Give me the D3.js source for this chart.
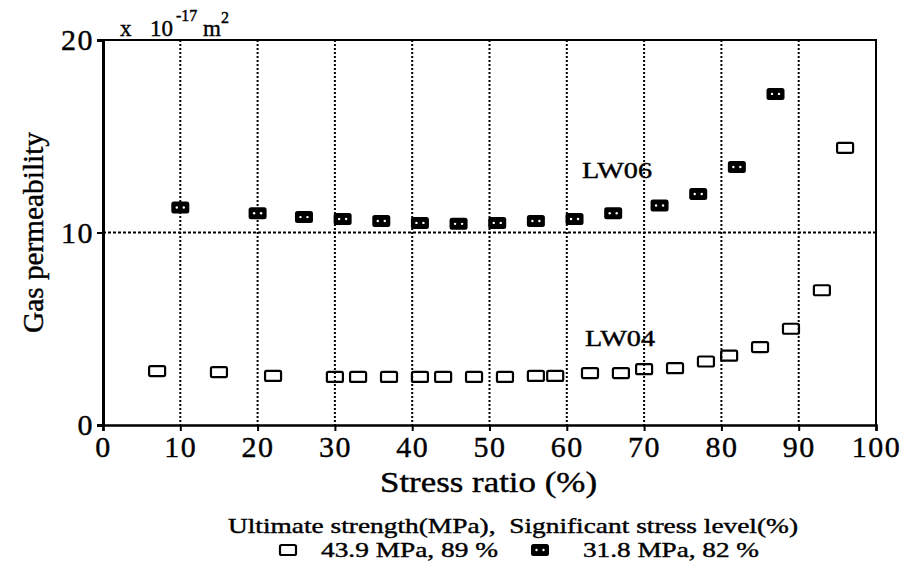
<!DOCTYPE html>
<html>
<head>
<meta charset="utf-8">
<script src="https://cdn.jsdelivr.net/npm/d3@7"></script>
<style>
  body { margin: 0; background: #fff; }
  svg text { font-family: "Times New Roman", "Liberation Serif", Times, serif !important; fill: #000; stroke: #000; stroke-width: 0.4px; }
</style>
</head>
<body>
<div id="chart"></div>
<script>
// LW04 (open squares) and LW06 (filled squares), gas permeability in 1e-17 m2
const lw04X = [7, 15, 22, 30, 33, 37, 41, 44, 48, 52, 56, 58.5, 63, 67, 70, 74, 78, 81, 85, 89, 93, 96];
const lw04Y = [2.8, 2.75, 2.55, 2.5, 2.5, 2.5, 2.5, 2.5, 2.5, 2.5, 2.55, 2.55, 2.7, 2.7, 2.9, 2.95, 3.3, 3.6, 4.05, 5.0, 7.0, 14.4];
const lw06X = [10, 20, 26, 31, 36, 41, 46, 51, 56, 61, 66, 72, 77, 82, 87];
const lw06Y = [11.3, 11.0, 10.8, 10.7, 10.6, 10.5, 10.45, 10.5, 10.6, 10.7, 11.0, 11.4, 12.0, 13.4, 17.2];
const xTicks = [0, 10, 20, 30, 40, 50, 60, 70, 80, 90, 100];
const yTicks = [0, 10, 20];
const legendLabels = ["43.9 MPa, 89 %", "31.8 MPa, 82 %"];

const W = 906, H = 567;
const plotL = 103, plotR = 876, plotT = 40, plotB = 425;
const serif = "'Times New Roman', 'Liberation Serif', Times, serif";

const svg = d3.select("#chart")
    .append("svg")
    .attr("width", W)
    .attr("height", H)
    .attr("font-family", serif);

const x = d3.scaleLinear().domain([0, 100]).range([plotL, plotR]);
const y = d3.scaleLinear().domain([0, 20]).range([plotB, plotT]);

// dotted grid
svg.append("g")
    .selectAll("line")
    .data(xTicks.slice(1, -1))
    .enter()
    .append("line")
    .attr("x1", d => x(d)).attr("x2", d => x(d))
    .attr("y1", plotT).attr("y2", plotB)
    .attr("stroke", "#000")
    .attr("stroke-width", 2)
    .attr("stroke-dasharray", "2,2");

svg.append("line")
    .attr("x1", plotL).attr("x2", plotR)
    .attr("y1", y(10)).attr("y2", y(10))
    .attr("stroke", "#000")
    .attr("stroke-width", 2)
    .attr("stroke-dasharray", "3,2");

// frame: top and right
svg.append("path")
    .attr("d", `M${plotL},${plotT}H${plotR}V${plotB}`)
    .attr("fill", "none")
    .attr("stroke", "#000")
    .attr("stroke-width", 2);

const xAxis = svg.append("g")
    .attr("transform", `translate(0,${plotB})`)
    .call(d3.axisBottom(x).tickValues(xTicks).tickSize(6).tickPadding(5));
xAxis.attr("font-family", serif);
xAxis.select(".domain").attr("stroke-width", 2.5);
xAxis.selectAll(".tick line").attr("stroke-width", 2);
xAxis.selectAll("text")
    .style("font-size", "30px")
    .attr("letter-spacing", "1.5px");

const yAxis = svg.append("g")
    .attr("transform", `translate(${plotL},0)`)
    .call(d3.axisLeft(y).tickValues(yTicks).tickSize(6).tickPadding(3));
yAxis.attr("font-family", serif);
yAxis.select(".domain").attr("stroke-width", 3);
yAxis.selectAll(".tick line").attr("stroke-width", 2);
yAxis.selectAll("text")
    .style("font-size", "30px")
    .attr("letter-spacing", "1.5px");

// axis titles
svg.append("text")
    .attr("x", 380).attr("y", 492)
    .attr("textLength", 217)
    .attr("lengthAdjust", "spacingAndGlyphs")
    .style("font-size", "29px")
    .text("Stress ratio (%)");

svg.append("text")
    .attr("transform", "translate(43,333) rotate(-90)")
    .attr("textLength", 201)
    .attr("lengthAdjust", "spacingAndGlyphs")
    .style("font-size", "29px")
    .text("Gas permeability");

// unit label
const unit = svg.append("text").attr("x", 120).attr("y", 36).style("font-size", "23px");
unit.append("tspan").text("x");
unit.append("tspan").attr("x", 150).text("10");
unit.append("tspan").attr("x", 176).attr("dy", -15).style("font-size", "16px").text("-17");
unit.append("tspan").attr("x", 203).attr("dy", 15).text("m");
unit.append("tspan").attr("dy", -13).style("font-size", "16px").text("2");

// series labels
svg.append("text")
    .attr("x", 582).attr("y", 178)
    .attr("textLength", 70)
    .attr("lengthAdjust", "spacingAndGlyphs")
    .style("font-size", "23px")
    .text("LW06");
svg.append("text")
    .attr("x", 585).attr("y", 346)
    .attr("textLength", 70)
    .attr("lengthAdjust", "spacingAndGlyphs")
    .style("font-size", "23px")
    .text("LW04");

// markers
function openMarker(g, cx, cy) {
    g.append("rect")
        .attr("x", cx - 8).attr("y", cy - 5)
        .attr("width", 16).attr("height", 10)
        .attr("rx", 1.5)
        .attr("fill", "none")
        .attr("stroke", "#000")
        .attr("stroke-width", 2.2);
}
function filledMarker(g, cx, cy) {
    g.append("rect")
        .attr("x", cx - 9).attr("y", cy - 6)
        .attr("width", 18).attr("height", 12)
        .attr("rx", 2.5)
        .attr("fill", "#000");
    g.append("circle").attr("cx", cx - 3.5).attr("cy", cy).attr("r", 1.2).attr("fill", "#fff");
    g.append("circle").attr("cx", cx + 3.5).attr("cy", cy).attr("r", 1.2).attr("fill", "#fff");
}

const pts = svg.append("g");
lw04X.forEach((d, i) => openMarker(pts, x(d), y(lw04Y[i])));
lw06X.forEach((d, i) => filledMarker(pts, x(d), y(lw06Y[i])));

// legend
svg.append("text")
    .attr("x", 228).attr("y", 533)
    .attr("textLength", 570)
    .attr("lengthAdjust", "spacingAndGlyphs")
    .style("font-size", "21px")
    .attr("xml:space", "preserve")
    .text("Ultimate strength(MPa),  Significant stress level(%)");

openMarker(svg, 288, 550);
filledMarker(svg, 540, 550);
svg.append("text")
    .attr("x", 321).attr("y", 557)
    .attr("textLength", 177)
    .attr("lengthAdjust", "spacingAndGlyphs")
    .style("font-size", "21px")
    .text(legendLabels[0]);
svg.append("text")
    .attr("x", 583).attr("y", 557)
    .attr("textLength", 176)
    .attr("lengthAdjust", "spacingAndGlyphs")
    .style("font-size", "21px")
    .text(legendLabels[1]);
</script>
</body>
</html>
